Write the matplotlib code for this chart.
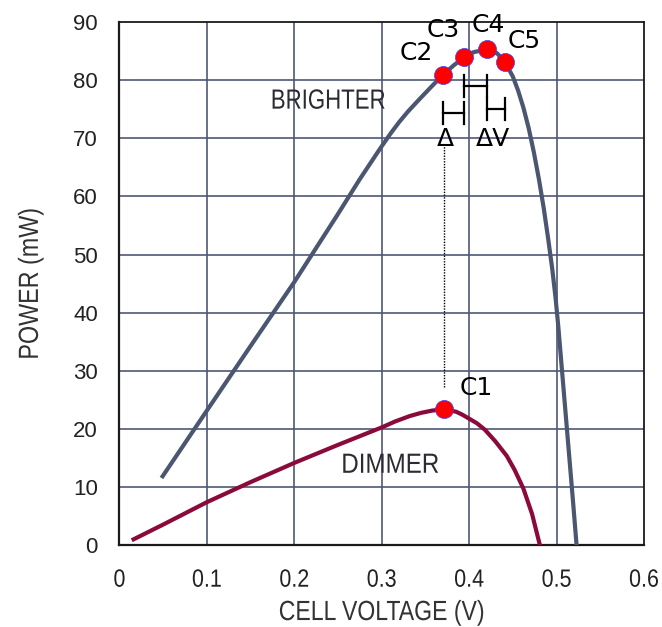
import matplotlib
matplotlib.use("Agg")
import matplotlib.pyplot as plt
from matplotlib.patheffects import AbstractPathEffect
from matplotlib.transforms import Affine2D

# Solar cell power curves at two light levels
bright_v = [0.048, 0.10, 0.15, 0.20, 0.25, 0.275, 0.298, 0.310, 0.320, 0.330, 0.343,
            0.357, 0.370, 0.382, 0.394, 0.405, 0.4205, 0.432, 0.441, 0.450, 0.456,
            0.462, 0.468, 0.474, 0.480, 0.4855, 0.4905, 0.495, 0.4988, 0.502, 0.5048,
            0.5076, 0.5104, 0.5132, 0.516, 0.5188, 0.5229]
bright_p = [11.6, 23.2, 34.3, 45.3, 57.0, 63.0, 68.2, 70.8, 72.8, 74.6, 76.7,
            78.9, 80.9, 82.5, 83.9, 84.8, 85.3, 84.6, 83.1, 80.6, 78.2,
            75.3, 71.8, 67.6, 62.8, 57.8, 52.6, 47.6, 42.6, 37.6, 32.6,
            27.6, 22.6, 17.6, 12.6, 7.6, 0.0]

dim_v = [0.014, 0.05, 0.10, 0.15, 0.20, 0.25, 0.275, 0.30, 0.315, 0.332, 0.345,
         0.358, 0.371, 0.385, 0.392, 0.400, 0.409, 0.418, 0.430, 0.443, 0.452,
         0.462, 0.472, 0.481]
dim_p = [0.9, 3.6, 7.45, 10.9, 14.2, 17.3, 18.8, 20.3, 21.3, 22.25, 22.8,
         23.2, 23.4, 23.0, 22.5, 21.8, 21.0, 19.9, 17.9, 15.4, 13.0,
         9.8, 5.4, 0.0]

# Tracked operating points
point_names = ["C1", "C2", "C3", "C4", "C5"]
point_v = [0.371, 0.370, 0.394, 0.4205, 0.441]
point_p = [23.4, 80.9, 83.9, 85.3, 83.1]

# Voltage step brackets between successive points (y level of each bracket)
step_levels = [74.3, 79.0, 75.0]

x_ticks = [0, 0.1, 0.2, 0.3, 0.4, 0.5, 0.6]
x_tick_labels = ["0", "0.1", "0.2", "0.3", "0.4", "0.5", "0.6"]
y_ticks = [0, 10, 20, 30, 40, 50, 60, 70, 80, 90]


class Condense(AbstractPathEffect):
    """Narrow the glyphs of a text along its baseline, about its middle."""

    def __init__(self, factor):
        super().__init__()
        self.factor = factor

    def draw_path(self, renderer, gc, tpath, affine, rgbFace=None):
        ext = tpath.get_extents()
        cx = 0.5 * (ext.x0 + ext.x1)
        squeeze = Affine2D().translate(-cx, 0).scale(self.factor, 1).translate(cx, 0)
        renderer.draw_path(gc, tpath, squeeze + affine, rgbFace)


sans = "Liberation Sans"

fig = plt.figure(figsize=(6.62, 6.27), dpi=100)
ax = fig.add_axes([0.1805, 0.13, 0.7923, 0.835])

grid_col = "#4f5775"
for v in x_ticks[1:-1]:
    ax.axvline(v, color=grid_col, lw=1.2, zorder=1)
for p in y_ticks[1:-1]:
    ax.axhline(p, color=grid_col, lw=1.2, zorder=1)

ax.plot(bright_v, bright_p, color="#4b5670", lw=3.0, solid_capstyle="butt",
        solid_joinstyle="round", zorder=3)
ax.plot(dim_v, dim_p, color="#8a0b3b", lw=3.0, solid_capstyle="butt",
        solid_joinstyle="round", zorder=3)

# Dotted link from C1 up to the marker above
ax.plot([point_v[0], point_v[0]], [27.2, 69.0], color="black", lw=1.0,
        linestyle=(0, (1, 1)), zorder=4)

# Bracket marks for the step sizes
cap = 1.9
for i, lvl in enumerate(step_levels):
    x0, x1 = point_v[i + 1], point_v[i + 2]
    ax.plot([x0, x1], [lvl, lvl], color="black", lw=1.6, zorder=5)
    ax.plot([x0, x0], [lvl - cap, lvl + cap], color="black", lw=1.6, zorder=5)
    ax.plot([x1, x1], [lvl - cap, lvl + cap], color="black", lw=1.6, zorder=5)

ax.plot(point_v, point_p, linestyle="none", marker="o", markersize=13,
        markerfacecolor="#ff0000", markeredgecolor="#4040ff", markeredgewidth=0.5,
        zorder=6)

label_pos = [(0.408, 27.1), (0.339, 84.7), (0.370, 88.7), (0.4215, 89.4), (0.463, 86.7)]
for name, (lx, ly) in zip(point_names, label_pos):
    ax.text(lx, ly, name, fontsize=18, family="DejaVu Sans", ha="center",
            va="center", color="black", zorder=7, clip_on=False)

ax.text(0.373, 69.8, "\u0394", fontsize=18, family="DejaVu Sans", ha="center",
        va="center", color="black", zorder=7)
ax.text(0.427, 69.8, "\u0394V", fontsize=18, family="DejaVu Sans", ha="center",
        va="center", color="black", zorder=7)

t = ax.text(0.2385, 76.3, "BRIGHTER", fontsize=20, family=sans, ha="center",
            va="center", color="#2b2b33", zorder=2)
t.set_path_effects([Condense(0.80)])
t = ax.text(0.3094, 13.7, "DIMMER", fontsize=20, family=sans, ha="center",
            va="center", color="#2b2b33", zorder=2)
t.set_path_effects([Condense(0.87)])

ax.set_xlim(0, 0.6)
ax.set_ylim(0, 90)
ax.set_xticks(x_ticks)
ax.set_xticklabels(x_tick_labels, family=sans, fontsize=18, color="#222222")
for lab in ax.get_xticklabels():
    lab.set_path_effects([Condense(0.86)])
ax.set_yticks(y_ticks)
ax.set_yticklabels([str(v) for v in y_ticks], family=sans, fontsize=16, color="#222222")
ax.tick_params(axis="y", length=0, pad=15.5)
ax.tick_params(axis="x", length=0, pad=16)

xl = ax.set_xlabel("CELL VOLTAGE (V)", family=sans, fontsize=20, color="#333333", labelpad=6)
xl.set_path_effects([Condense(0.83)])
yl = ax.set_ylabel("POWER (mW)", family=sans, fontsize=20, color="#333333", labelpad=21)
yl.set_path_effects([Condense(0.84)])

for side, sp in ax.spines.items():
    sp.set_color("#1a1a1a")
    sp.set_linewidth(1.6 if side in ("left", "bottom") else 1.3)
    sp.set_zorder(2)

fig.savefig("out.png", dpi=100)
